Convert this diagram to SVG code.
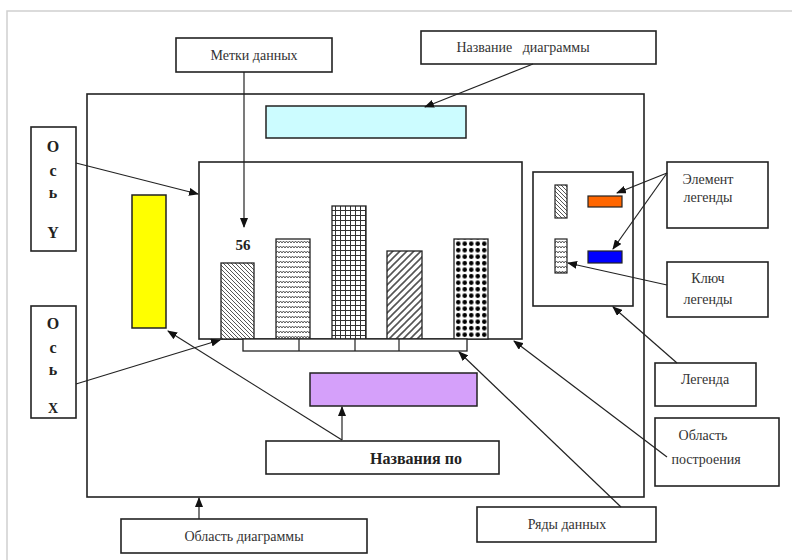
<svg xmlns="http://www.w3.org/2000/svg" width="792" height="560" viewBox="0 0 792 560">
<style>
.box{fill:#fff;stroke:#222;stroke-width:1.6}
.t{font-size:14px;fill:#333;text-anchor:middle}
.c{fill:none;stroke:#222;stroke-width:1.2}
.bar{stroke:#222;stroke-width:1.3}
</style>
<defs>
<marker id="ah" markerUnits="userSpaceOnUse" markerWidth="10" markerHeight="8" refX="9" refY="4" orient="auto">
<path d="M0,0 L10,4 L0,8 z" fill="#111"/>
</marker>
<pattern id="p1" width="4" height="4" patternUnits="userSpaceOnUse">
<rect width="4" height="4" fill="#fff"/>
<path d="M-1,-1 L5,5 M-1,3 L1,5 M3,-1 L5,1" stroke="#444" stroke-width="0.9"/>
</pattern>
<pattern id="p2" width="6" height="5" patternUnits="userSpaceOnUse">
<rect width="6" height="5" fill="#fff"/>
<path d="M0,3 L1.5,1 L3,3 L4.5,1 L6,3" fill="none" stroke="#444" stroke-width="0.9"/>
</pattern>
<pattern id="p3" width="5" height="5" patternUnits="userSpaceOnUse">
<rect width="5" height="5" fill="#fff"/>
<path d="M0,0.5 H5 M0.5,0 V5" stroke="#333" stroke-width="1"/>
</pattern>
<pattern id="p4" width="7" height="7" patternUnits="userSpaceOnUse">
<rect width="7" height="7" fill="#fff"/>
<path d="M-1,8 L8,-1 M-1,1 L1,-1 M6,8 L8,6" stroke="#555" stroke-width="1.6"/>
</pattern>
<pattern id="p5" width="6.5" height="6.5" patternUnits="userSpaceOnUse">
<rect width="6.5" height="6.5" fill="#fff"/>
<circle cx="3.25" cy="3.25" r="2.3" fill="#000"/>
</pattern>
</defs>
<rect width="792" height="560" fill="#fff"/>
<path d="M7,560 V11 H792" fill="none" stroke="#d0d0d0" stroke-width="1.5"/>

<g font-family="Liberation Serif, Times New Roman, serif">
<g id="chart-area"><rect class="box" x="87" y="94" width="557" height="403"/></g>
<g id="chart-title"><rect x="266" y="106" width="200" height="32" fill="#ccfcff" stroke="#222" stroke-width="1.5"/></g>
<g id="plot-area"><rect class="box" x="199" y="162" width="323" height="177"/></g>
<g id="yellow-axis"><rect x="132" y="195" width="34" height="133" fill="#ffff00" stroke="#222" stroke-width="1.5"/></g>
<g id="purple-axis"><rect x="310" y="373" width="167" height="33" fill="#d5a0fa" stroke="#222" stroke-width="1.5"/></g>

<g id="bars">
<rect class="bar" x="221" y="263" width="33" height="76" fill="url(#p1)"/>
<rect class="bar" x="276" y="239" width="34" height="100" fill="url(#p2)"/>
<rect class="bar" x="332" y="206" width="34" height="133" fill="url(#p3)"/>
<rect class="bar" x="387" y="251" width="35" height="88" fill="url(#p4)"/>
<rect class="bar" x="454" y="239" width="34" height="100" fill="url(#p5)"/>
<text x="243" y="250" font-size="15" font-weight="bold" fill="#222" text-anchor="middle">56</text>
</g>
<g id="category-axis">
<rect x="243" y="339" width="224" height="12" fill="#fff" stroke="#222" stroke-width="1.3"/>
<path d="M299,339 V351 M355,339 V351 M399,339 V351" stroke="#222" stroke-width="1.2"/>
</g>

<g id="legend">
<rect class="box" x="533" y="172" width="100" height="134"/>
<rect x="555" y="185" width="12" height="33" fill="url(#p1)" stroke="#222" stroke-width="1.2"/>
<rect x="555" y="239" width="12" height="34" fill="url(#p2)" stroke="#222" stroke-width="1.2"/>
<rect x="588" y="196" width="34" height="11" fill="#ff6600" stroke="#222" stroke-width="1.2"/>
<rect x="588" y="251" width="34" height="12" fill="#0000ff" stroke="#222" stroke-width="1.2"/>
</g>

<g id="label-metki"><rect class="box" x="176" y="38" width="156" height="34"/><text class="t" x="254" y="60">Метки данных</text></g>
<g id="label-title"><rect class="box" x="421" y="31" width="235" height="33"/><text class="t" x="523" y="52" xml:space="preserve">Название   диаграммы</text></g>
<g id="label-axis-y"><rect class="box" x="31" y="127" width="45" height="124"/>
<text x="53" y="152" font-size="16" font-weight="bold" fill="#222" text-anchor="middle">О</text>
<text x="53" y="176" font-size="16" font-weight="bold" fill="#222" text-anchor="middle">с</text>
<text x="53" y="198" font-size="16" font-weight="bold" fill="#222" text-anchor="middle">ь</text>
<text x="53" y="238" font-size="16" font-weight="bold" fill="#222" text-anchor="middle">Y</text>
</g>
<g id="label-axis-x"><rect class="box" x="31" y="306" width="45" height="112"/>
<text x="53" y="329" font-size="16" font-weight="bold" fill="#222" text-anchor="middle">О</text>
<text x="53" y="353" font-size="16" font-weight="bold" fill="#222" text-anchor="middle">с</text>
<text x="53" y="375" font-size="16" font-weight="bold" fill="#222" text-anchor="middle">ь</text>
<text x="53" y="413" font-size="14" font-weight="bold" fill="#222" text-anchor="middle">X</text>
</g>
<g id="label-element"><rect class="box" x="667" y="162" width="101" height="66"/><text class="t" x="708" y="184">Элемент</text><text class="t" x="708" y="202">легенды</text></g>
<g id="label-key"><rect class="box" x="667" y="262" width="101" height="55"/><text class="t" x="708" y="283">Ключ</text><text class="t" x="708" y="304">легенды</text></g>
<g id="label-legend"><rect class="box" x="655" y="363" width="101" height="43"/><text class="t" x="705" y="384">Легенда</text></g>
<g id="label-plot"><rect class="box" x="655" y="418" width="124" height="68"/><text class="t" x="703" y="440">Область</text><text class="t" x="706" y="464">построения</text></g>
<g id="label-names"><rect class="box" x="266" y="441" width="233" height="33"/><text x="416" y="464" font-size="16" font-weight="bold" fill="#222" text-anchor="middle">Названия по</text></g>
<g id="label-chart-area"><rect class="box" x="121" y="519" width="246" height="34"/><text class="t" x="244" y="541">Область диаграммы</text></g>
<g id="label-series"><rect class="box" x="477" y="507" width="179" height="35"/><text class="t" x="567" y="529">Ряды данных</text></g>
</g>

<g id="connectors">
<path class="c" d="M244,72 V227" marker-end="url(#ah)"/>
<path class="c" d="M533,64 L425,107" marker-end="url(#ah)"/>
<path class="c" d="M76,163 L198,194" marker-end="url(#ah)"/>
<path class="c" d="M76,384 L220,340" marker-end="url(#ah)"/>
<path class="c" d="M342,440 L168,331" marker-end="url(#ah)"/>
<path class="c" d="M342,440 V407" marker-end="url(#ah)"/>
<path class="c" d="M199,519 V498" marker-end="url(#ah)"/>
<path class="c" d="M621,507 L459,352" marker-end="url(#ah)"/>
<path class="c" d="M667,457 L514,341" marker-end="url(#ah)"/>
<path class="c" d="M677,363 L613,307" marker-end="url(#ah)"/>
<path class="c" d="M667,285 L568,263" marker-end="url(#ah)"/>
<path class="c" d="M667,173 L617,193" marker-end="url(#ah)"/>
<path class="c" d="M667,173 L613,249" marker-end="url(#ah)"/>
</g>
</svg>
